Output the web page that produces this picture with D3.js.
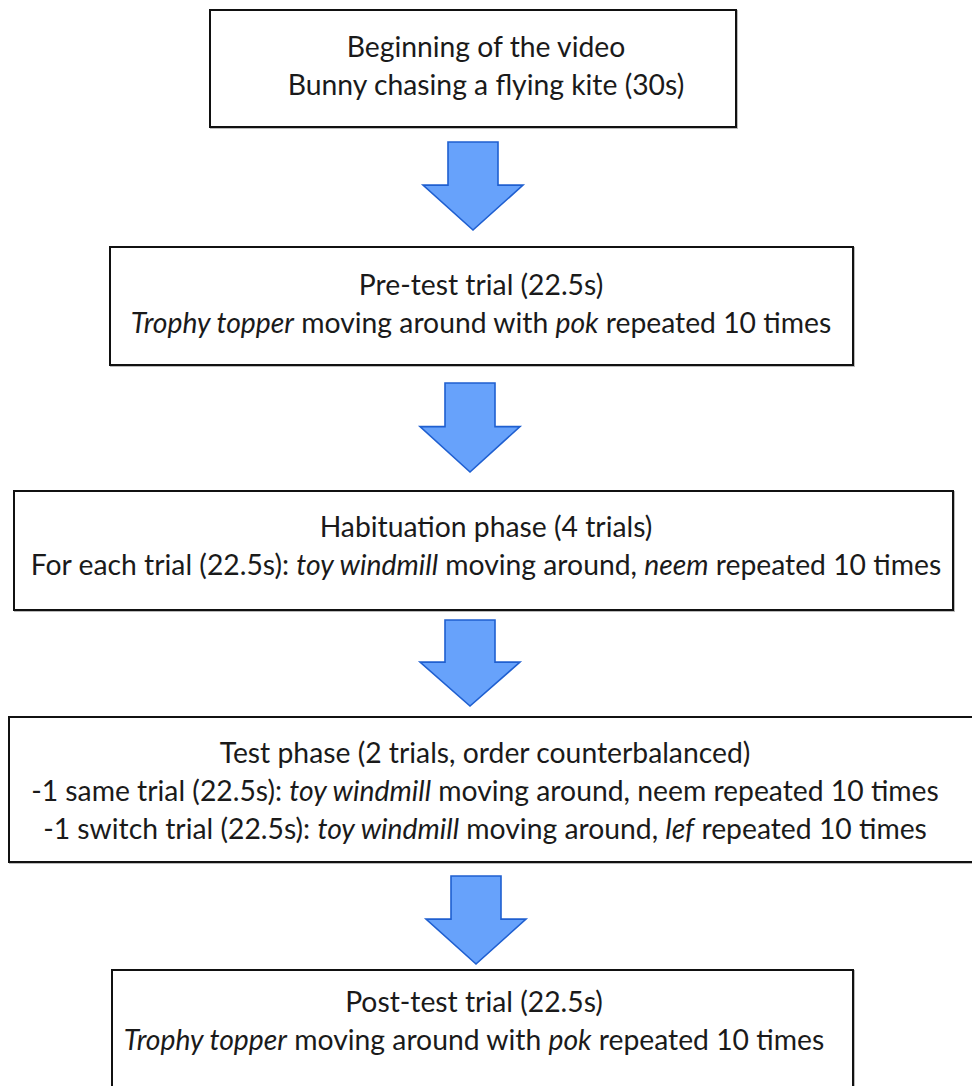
<!DOCTYPE html>
<html><head><meta charset="utf-8">
<script src="https://cdn.jsdelivr.net/npm/d3@7"></script>
<style>html,body{margin:0;padding:0;background:#fff;}svg{display:block;}</style>
</head><body>
<svg id="c" width="972" height="1086"></svg>
<script>
// Steps of the procedure (segments: [text, italic])
const step1 = [
  [["Beginning of the video", false]],
  [["Bunny chasing a flying kite (30s)", false]]
];
const step2 = [
  [["Pre-test trial (22.5s)", false]],
  [["Trophy topper", true], [" moving around with ", false], ["pok", true], [" repeated 10 times", false]]
];
const step3 = [
  [["Habituation phase (4 trials)", false]],
  [["For each trial (22.5s): ", false], ["toy windmill", true], [" moving around, ", false], ["neem", true], [" repeated 10 times", false]]
];
const step4 = [
  [["Test phase (2 trials, order counterbalanced)", false]],
  [["-1 same trial (22.5s): ", false], ["toy windmill", true], [" moving around, neem repeated 10 times", false]],
  [["-1 switch trial (22.5s): ", false], ["toy windmill", true], [" moving around, ", false], ["lef", true], [" repeated 10 times", false]]
];
const step5 = [
  [["Post-test trial (22.5s)", false]],
  [["Trophy topper", true], [" moving around with ", false], ["pok", true], [" repeated 10 times", false]]
];
const steps = [step1, step2, step3, step4, step5];

// layout (pixels)
const boxes = [
  {x0: 210, x1: 736, y0: 10, y1: 127, cx: 486, ty: 46},
  {x0: 110, x1: 853, y0: 247, y1: 365, cx: 481, ty: 284},
  {x0: 14, x1: 953, y0: 491, y1: 610, cx: 486, ty: 526},
  {x0: 9, x1: 980, y0: 717, y1: 862, cx: 485, ty: 752},
  {x0: 112, x1: 853, y0: 970, y1: 1095, cx: 474, ty: 1001}
];
const arrows = [
  {cx: 473, top: 142, tip: 230},
  {cx: 470, top: 383, tip: 472},
  {cx: 470, top: 620, tip: 706},
  {cx: 476, top: 876, tip: 964}
];
const lineH = 38;

const svg = d3.select("#c");

// boxes
steps.forEach((lines, i) => {
  const b = boxes[i];
  svg.append("rect")
    .attr("x", b.x0 + 1).attr("y", b.y0 + 1)
    .attr("width", b.x1 - b.x0).attr("height", b.y1 - b.y0)
    .attr("fill", "none").attr("stroke", "#bbb").attr("stroke-width", 2);
  svg.append("rect")
    .attr("x", b.x0).attr("y", b.y0)
    .attr("width", b.x1 - b.x0).attr("height", b.y1 - b.y0)
    .attr("fill", "#fff").attr("stroke", "#111").attr("stroke-width", 2);
  lines.forEach((segs, j) => {
    const t = svg.append("text")
      .attr("x", b.cx).attr("y", b.ty + j * lineH)
      .attr("text-anchor", "middle")
      .attr("dominant-baseline", "central")
      .attr("font-family", "Lato, 'Open Sans', sans-serif")
      .attr("font-size", 28.3)
      .attr("fill", "#1a1a1a");
    segs.forEach(s => {
      t.append("tspan").text(s[0]).attr("font-style", s[1] ? "italic" : "normal");
    });
  });
});

// arrows
arrows.forEach(a => {
  const h = a.tip - a.top;
  const shaftW = 50, headW = 100, headY = a.top + h * 0.49;
  const pts = [
    [a.cx - shaftW / 2, a.top], [a.cx + shaftW / 2, a.top],
    [a.cx + shaftW / 2, headY], [a.cx + headW / 2, headY],
    [a.cx, a.tip], [a.cx - headW / 2, headY],
    [a.cx - shaftW / 2, headY]
  ];
  svg.append("path")
    .attr("d", d3.line()(pts) + "Z")
    .attr("fill", "#67a2fb").attr("stroke", "#1f5fd0").attr("stroke-width", 1.6)
    .attr("stroke-linejoin", "miter");
});
</script>
</body></html>
